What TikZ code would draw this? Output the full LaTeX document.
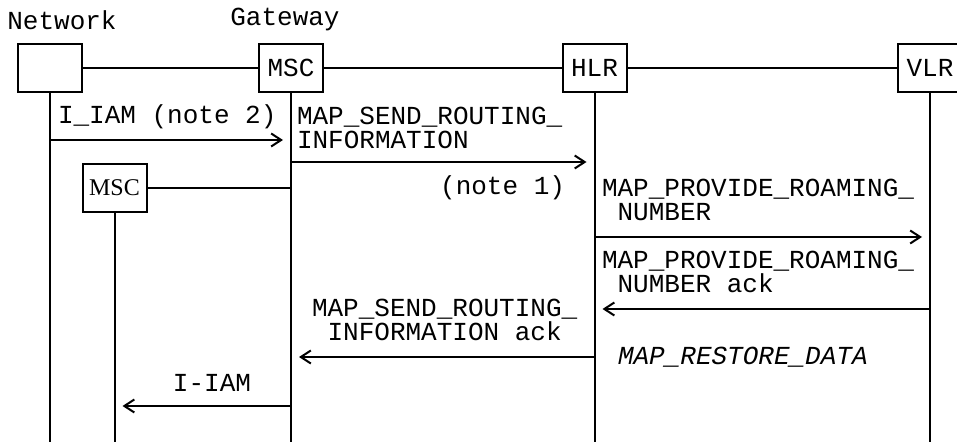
\documentclass[tikz,border=0pt]{standalone}
\usepackage{fontspec}
\setmainfont{Liberation Mono}
\newfontfamily\mscfont{Liberation Serif}
\usetikzlibrary{arrows.meta}

\begin{document}
\begin{tikzpicture}[x=0.5pt, y=-0.5pt, line width=1pt,
  font=\fontsize{13}{12}\selectfont, >={Straight Barb[length=5pt,width=6.5pt]},
  box/.style={draw, minimum width=32pt, minimum height=24pt, inner sep=0pt},
  lbl/.style={anchor=west, inner sep=0pt, align=left},
  msg/.style={->, shorten >=4pt}]
\useasboundingbox (0,0) rectangle (957,442);
\node[inner sep=0pt] (nettitle) at (62,20) {Network};
\node[inner sep=0pt] (gwtitle) at (285,20) {Gateway};
\node[box] (net) at (50,68) {};
\node[box] (gmsc) at (291,68) {MSC};
\node[box] (hlr) at (594.5,68) {HLR};
\node[box] (vlr) at (930,68) {VLR};
\node[box, font=\mscfont\fontsize{12}{13}\selectfont] (vmsc) at (114.5,188) {MSC};
\coordinate (bot) at (0,442);
% boxes and lifelines
\draw (net) -- (gmsc) -- (hlr) -- (vlr);
\draw (vmsc) -- (vmsc -| gmsc);
\foreach \n in {net,gmsc,hlr,vlr,vmsc}
  \draw (\n) -- (\n |- bot);
% message levels
\coordinate (m1) at (0,140);
\coordinate (m2) at (0,162);
\coordinate (m3) at (0,237);
\coordinate (m4) at (0,309);
\coordinate (m5) at (0,357);
\coordinate (m6) at (0,406);
\draw[msg] (net |- m1) -- (gmsc |- m1);
\draw[msg] (gmsc |- m2) -- (hlr |- m2);
\draw[msg] (hlr |- m3) -- (vlr |- m3);
\draw[msg] (vlr |- m4) -- (hlr |- m4);
\draw[msg] (hlr |- m5) -- (gmsc |- m5);
\draw[msg] (gmsc |- m6) -- (vmsc |- m6);
% message texts
\node[lbl] (iam) at (57,117) {I\_IAM (note 2)};
\node[lbl] (sri) at (296,128) {MAP\_SEND\_ROUTING\_\\INFORMATION};
\node[lbl, anchor=east] (note1) at (566,188) {(note 1)};
\node[lbl] (prn) at (601,200) {MAP\_PROVIDE\_ROAMING\_\\\hphantom{X}NUMBER};
\node[lbl] (prnack) at (601,272) {MAP\_PROVIDE\_ROAMING\_\\\hphantom{X}NUMBER ack};
\node[lbl] (sriack) at (311,320) {MAP\_SEND\_ROUTING\_\\\hphantom{X}INFORMATION ack};
\node[lbl] (rsd) at (617,357) {\itshape MAP\_RESTORE\_DATA};
\node[inner sep=0pt] (iiam) at (212,383) {I-IAM};
\end{tikzpicture}
\end{document}
